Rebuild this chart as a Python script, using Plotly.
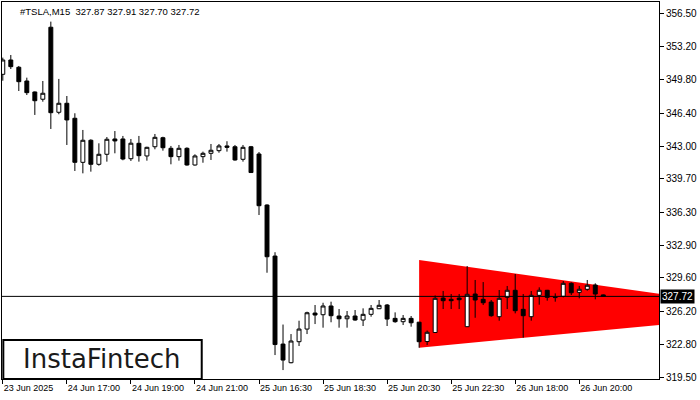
import plotly.graph_objects as go

# ---- data ----
opens = [350.35, 351.81, 351.07, 349.67, 348.55, 347.81, 355.15, 346.48, 347.40, 345.87,
         341.38, 343.63, 341.18, 342.20, 343.76, 343.76, 341.75, 343.32, 342.03, 342.97,
         343.89, 342.81, 341.96, 342.81, 341.11, 341.96, 342.30, 342.57, 343.05, 342.97,
         341.69, 342.97, 342.23, 337.03, 331.83, 322.86, 320.96, 323.10, 324.39, 326.02,
         325.85, 326.74, 325.72, 325.44, 325.72, 325.31, 325.89, 326.46, 326.84, 325.48,
         325.14, 325.48, 325.09, 323.12, 324.04, 327.55, 327.42, 327.55, 324.63, 327.96,
         327.42, 327.14, 325.65, 327.62, 328.34, 326.40, 325.65, 327.83, 328.34, 327.62,
         327.73, 329.05, 328.13, 328.44, 328.88, 327.87]
highs = [352.05, 352.32, 351.20, 350.01, 348.60, 349.67, 355.72, 349.88, 348.14, 346.38,
         344.68, 343.73, 343.32, 343.96, 344.57, 344.07, 343.76, 344.07, 342.97, 344.27,
         343.99, 343.05, 343.15, 342.91, 342.20, 342.47, 343.25, 343.25, 343.53, 343.15,
         343.15, 343.05, 342.43, 337.10, 332.22, 324.85, 323.88, 325.24, 326.16, 326.84,
         327.07, 327.18, 326.43, 326.23, 326.33, 326.50, 326.84, 327.35, 326.94, 326.09,
         325.82, 325.72, 325.12, 324.24, 327.81, 328.27, 327.96, 327.96, 330.81, 329.39,
         329.18, 327.35, 328.37, 328.78, 330.00, 327.96, 328.27, 328.64, 328.38, 328.03,
         329.29, 329.15, 328.78, 329.39, 329.05, 327.91]
lows = [349.70, 350.89, 348.65, 348.24, 346.21, 347.56, 344.78, 346.28, 343.15, 340.50,
        340.26, 340.43, 341.04, 341.45, 342.30, 341.59, 341.52, 341.45, 341.55, 342.71,
        342.57, 341.18, 341.55, 341.04, 341.04, 341.34, 341.62, 342.36, 342.47, 341.55,
        341.45, 340.32, 336.01, 330.13, 321.74, 320.21, 320.90, 322.66, 323.88, 324.90,
        324.53, 325.08, 324.53, 324.53, 325.24, 324.70, 325.65, 326.43, 324.70, 325.03,
        324.80, 324.63, 322.49, 322.76, 324.00, 326.43, 326.43, 326.43, 324.60, 325.54,
        326.84, 325.65, 325.24, 326.43, 325.99, 323.51, 325.24, 326.87, 327.28, 327.18,
        327.62, 327.86, 327.52, 328.30, 327.42, 327.70]
closes = [351.81, 351.13, 349.60, 348.48, 347.66, 348.42, 346.44, 347.40, 345.70, 341.38,
          343.63, 341.18, 342.20, 343.73, 343.56, 341.72, 343.33, 342.06, 342.91, 343.93,
          342.87, 341.96, 342.81, 341.11, 342.03, 342.30, 342.61, 343.05, 342.91, 341.62,
          342.91, 340.34, 336.96, 331.76, 322.81, 321.23, 323.17, 324.39, 326.05, 325.82,
          326.74, 325.75, 325.44, 325.72, 325.31, 325.89, 326.50, 326.81, 325.41, 325.14,
          325.48, 325.03, 323.10, 324.06, 327.52, 327.28, 327.28, 327.38, 327.93, 327.35,
          327.07, 325.75, 327.52, 328.34, 326.26, 325.75, 327.83, 328.34, 327.62, 327.60,
          329.05, 328.09, 328.44, 328.85, 327.96, 327.72]
bars = list(range(len(opens)))

x_tick_bars = [0, 8, 16, 24, 32, 40, 48, 56, 64, 72]
x_tick_labels = ["23 Jun 2025", "24 Jun 17:00", "24 Jun 19:00", "24 Jun 21:00",
                 "25 Jun 16:30", "25 Jun 18:30", "25 Jun 20:30", "25 Jun 22:30",
                 "26 Jun 18:00", "26 Jun 20:00"]
y_ticks = [319.50, 322.80, 326.20, 329.60, 332.90, 336.30, 339.70, 343.00,
           346.40, 349.80, 353.20, 356.50]

# symmetrical triangle pattern (bearish)
tri_x = [52, 82, 82, 52]
tri_y = [331.43, 327.99, 324.80, 322.49]

symbol = "#TSLA,M15"
last_bar = (opens[-1], highs[-1], lows[-1], closes[-1])
bid = closes[-1]

FONT = "Liberation Sans"

fig = go.Figure()
fig.add_trace(go.Candlestick(
    x=bars, open=opens, high=highs, low=lows, close=closes,
    increasing=dict(line=dict(color="black", width=1), fillcolor="white"),
    decreasing=dict(line=dict(color="black", width=1), fillcolor="black"),
    whiskerwidth=0, showlegend=False))

# triangle pattern drawn beneath the candles, in data coordinates
tri_path = "M " + " L ".join(f"{x},{y}" for x, y in zip(tri_x, tri_y)) + " Z"
fig.add_shape(type="path", xref="x", yref="y", path=tri_path,
              fillcolor="#ff0000", line=dict(width=0), layer="below")

fig.add_shape(type="line", xref="paper", x0=0, x1=1, yref="y", y0=bid, y1=bid,
              line=dict(color="black", width=1))

# logo box
fig.add_shape(type="rect", xref="paper", yref="paper", x0=0.002, x1=0.304,
              y0=0.0, y1=0.1034, line=dict(color="black", width=2),
              fillcolor="white", layer="above")
fig.add_annotation(xref="paper", yref="paper", x=0.152, y=0.052,
                   text="InstaFintech", showarrow=False,
                   font=dict(family="DejaVu Sans", size=26, color="#1a1a1a"),
                   xanchor="center", yanchor="middle")

# header
fig.add_annotation(xref="paper", yref="paper", x=0.0244, y=0.9735,
                   text=symbol + "&nbsp;&nbsp;" + " ".join(f"{v:.2f}" for v in last_bar),
                   showarrow=False, xanchor="left", yanchor="middle",
                   font=dict(family=FONT, size=9.5, color="black"))

# current price label
fig.add_annotation(xref="paper", yref="y", x=1, y=bid, text=f"{bid:.2f}",
                   showarrow=False, xanchor="left", yanchor="middle", xshift=1,
                   bgcolor="black", borderpad=1,
                   font=dict(family=FONT, size=10, color="white"))

fig.update_layout(
    width=700, height=400,
    margin=dict(l=2, r=41, t=2, b=21),
    paper_bgcolor="white", plot_bgcolor="white",
    showlegend=False,
    xaxis=dict(range=[-0.1, 81.96], rangeslider=dict(visible=False),
               tickmode="array", tickvals=x_tick_bars, ticktext=x_tick_labels,
               ticks="outside", ticklen=4, tickcolor="black",
               ticklabelposition="outside right",
               showgrid=False, zeroline=False,
               showline=True, mirror=True, linecolor="black", linewidth=1,
               tickfont=dict(family=FONT, size=9, color="black")),
    yaxis=dict(range=[319.30, 357.72], side="right",
               tickmode="array", tickvals=y_ticks,
               ticktext=[f"{v:.2f}" for v in y_ticks],
               ticks="outside", ticklen=4, tickcolor="black",
               showgrid=False, zeroline=False,
               showline=True, mirror=True, linecolor="black", linewidth=1,
               tickfont=dict(family=FONT, size=10, color="black")),
)

fig.write_html("out.html", config={"displayModeBar": False},
               post_script="document.body.style.margin='0';document.body.style.padding='0';")
